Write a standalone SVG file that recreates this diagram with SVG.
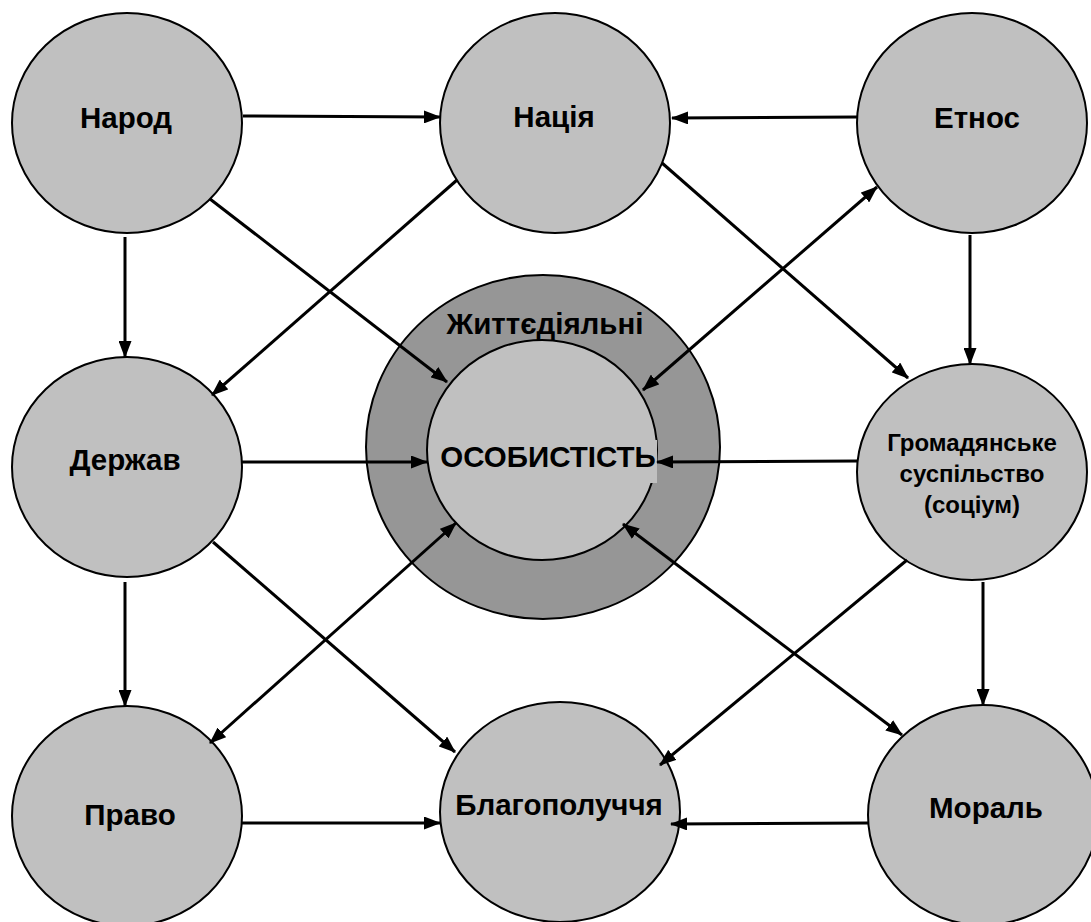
<svg xmlns="http://www.w3.org/2000/svg" width="1091" height="922" viewBox="0 0 1091 922">
<style>
.n{fill:#c0c0c0;stroke:#000;stroke-width:2}
.ring{fill:#969696;stroke:#000;stroke-width:2}
.t{font-family:"Liberation Sans",Arial,sans-serif;font-weight:bold;font-size:29.5px;fill:#000;text-anchor:middle}
.s{font-size:24px}
.c line{stroke:#000;stroke-width:3;marker-end:url(#ah)}
.c line.d{marker-start:url(#ah)}
</style>
<defs>
<marker id="ah" markerUnits="userSpaceOnUse" markerWidth="17" markerHeight="13" refX="16" refY="6.5" orient="auto-start-reverse">
<path d="M0,0 L17,6.5 L0,13 z" fill="#000"/>
</marker>
</defs>
<rect width="1091" height="922" fill="#fff"/>
<g id="center">
<ellipse class="ring" cx="543" cy="447" rx="177" ry="172"/>
<ellipse class="n" cx="542" cy="450" rx="115" ry="110"/>
<rect x="437" y="440" width="220" height="43" fill="#c0c0c0"/>
<text class="t" x="545" y="334">Життєдіяльні</text>
<text class="t" x="548" y="467">ОСОБИСТІСТЬ</text>
</g>
<g id="narod"><ellipse class="n" cx="127" cy="123" rx="115" ry="110"/><text class="t" x="126" y="128">Народ</text></g>
<g id="natsiia"><ellipse class="n" cx="555" cy="123" rx="115" ry="110"/><text class="t" x="554" y="127">Нація</text></g>
<g id="etnos"><ellipse class="n" cx="972" cy="123" rx="115" ry="110"/><text class="t" x="977" y="128">Етнос</text></g>
<g id="derzhav"><ellipse class="n" cx="127" cy="467" rx="115" ry="110"/><text class="t" x="125" y="470">Держав</text></g>
<g id="hromadianske"><ellipse class="n" cx="972" cy="472" rx="115" ry="108"/>
<text class="t s" x="972" y="451">Громадянське</text>
<text class="t s" x="972" y="482">суспільство</text>
<text class="t s" x="972" y="513">(соціум)</text></g>
<g id="pravo"><ellipse class="n" cx="127" cy="816" rx="115" ry="110"/><text class="t" x="130" y="825">Право</text></g>
<g id="blahopoluchchia"><ellipse class="n" cx="560" cy="812" rx="120" ry="110"/><text class="t" x="559" y="815">Благополуччя</text></g>
<g id="moral"><ellipse class="n" cx="983" cy="815" rx="115" ry="110"/><text class="t" x="986" y="818">Мораль</text></g>
<g id="connectors" class="c">
<line x1="243" y1="116" x2="440" y2="117"/>
<line x1="858" y1="117" x2="672" y2="118"/>
<line x1="125" y1="237" x2="125" y2="357"/>
<line x1="210" y1="199" x2="447" y2="382"/>
<line x1="457" y1="180" x2="212" y2="395"/>
<line x1="662" y1="163" x2="908" y2="378"/>
<line class="d" x1="877" y1="187" x2="643" y2="390"/>
<line x1="970" y1="235" x2="970" y2="364"/>
<line x1="242" y1="462" x2="427" y2="462"/>
<line x1="858" y1="461" x2="657" y2="462"/>
<line x1="125" y1="582" x2="125" y2="706"/>
<line x1="213" y1="542" x2="455" y2="752"/>
<line class="d" x1="456" y1="523" x2="210" y2="743"/>
<line class="d" x1="623" y1="524" x2="902" y2="735"/>
<line x1="907" y1="560" x2="660" y2="765"/>
<line x1="983" y1="582" x2="983" y2="705"/>
<line x1="242" y1="823" x2="440" y2="823"/>
<line x1="868" y1="823" x2="671" y2="824"/>
</g>
</svg>
